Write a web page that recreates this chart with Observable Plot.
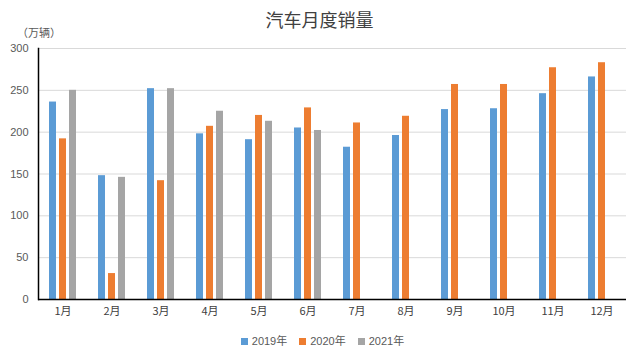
<!DOCTYPE html>
<html>
<head>
<meta charset="utf-8">
<script src="https://cdn.jsdelivr.net/npm/d3@7"></script>
<script src="https://cdn.jsdelivr.net/npm/@observablehq/plot@0.6"></script>
<style>
  html, body { margin: 0; padding: 0; background: #fff; }
  #wrap { position: relative; width: 639px; height: 358px; font-family: "Liberation Sans", "Noto Sans CJK SC", sans-serif; }
  #title { position: absolute; left: 0; top: 7px; width: 639px; text-align: center; font-size: 18px; color: #404040; font-family: "Noto Sans CJK SC", sans-serif; line-height: 24px; }
  #ylabel { position: absolute; left: 17px; top: 24px; font-size: 11px; color: #595959; font-family: "Noto Sans CJK SC", sans-serif; line-height: 16px; }
  #chart { position: absolute; left: 0; top: 0; }
  #legend { position: absolute; left: 0; top: 333px; width: 639px; display: flex; justify-content: center; gap: 12px; font-size: 11px; color: #595959; line-height: 16px; padding-left: 6px; box-sizing: border-box; }
  #legend .item { display: flex; align-items: center; gap: 4px; }
  #legend .sw { width: 7px; height: 7px; display: inline-block; }
</style>
</head>
<body>
<div id="wrap">
  <div id="chart"></div>
  <div id="title">汽车月度销量</div>
  <div id="ylabel">（万辆）</div>
  <div id="legend"></div>
</div>
<script>
const months = ["1月","2月","3月","4月","5月","6月","7月","8月","9月","10月","11月","12月"];
const seriesNames = ["2019年","2020年","2021年"];
const seriesColors = ["#5B9BD5","#ED7D31","#A5A5A5"];
const sales2019 = [236, 148, 252, 198, 191, 205, 182, 196, 227, 228, 246, 266];
const sales2020 = [192, 31, 142, 207, 220, 229, 211, 219, 257, 257, 277, 283];
const sales2021 = [250, 146, 252, 225, 213, 202];
const yTicks = [0, 50, 100, 150, 200, 250, 300];

const rows = [];
[sales2019, sales2020, sales2021].forEach((arr, si) => {
  arr.forEach((v, mi) => rows.push({month: months[mi], series: seriesNames[si], value: v}));
});

const chart = Plot.plot({
  width: 639,
  height: 325,
  marginTop: 48,
  marginBottom: 26,
  marginLeft: 35,
  marginRight: 11,
  style: {fontFamily: "'Liberation Sans', 'Noto Sans CJK SC', sans-serif", fontSize: "11px", color: "#595959", background: "transparent"},
  fx: {domain: months, padding: 0, label: null},
  x: {domain: seriesNames, paddingInner: 0.27, paddingOuter: 0.88, axis: null},
  y: {domain: [0, 300], label: null},
  color: {domain: seriesNames, range: seriesColors},
  marks: [
    Plot.gridY(yTicks, {stroke: "#D9D9D9", strokeOpacity: 1}),
    Plot.barY(rows, {fx: "month", x: "series", y: "value", fill: "series"}),
    Plot.ruleY([0], {stroke: "#000", strokeWidth: 1.5}),
    Plot.frame({anchor: "left", facetAnchor: "left", stroke: "#000", strokeWidth: 1.5}),
    Plot.axisY(yTicks, {tickSize: 0, tickPadding: 10, label: null, fill: "#595959"}),
    Plot.axisFx({anchor: "bottom", tickSize: 0, tickPadding: 8, label: null, fontFamily: "'Noto Sans CJK SC', sans-serif", fill: "#404040"})
  ]
});
document.getElementById("chart").appendChild(chart);

const legend = document.getElementById("legend");
seriesNames.forEach((s, i) => {
  const item = document.createElement("div");
  item.className = "item";
  const sw = document.createElement("span");
  sw.className = "sw";
  sw.style.background = seriesColors[i];
  const t = document.createElement("span");
  t.textContent = s;
  item.appendChild(sw);
  item.appendChild(t);
  legend.appendChild(item);
});
</script>
</body>
</html>
